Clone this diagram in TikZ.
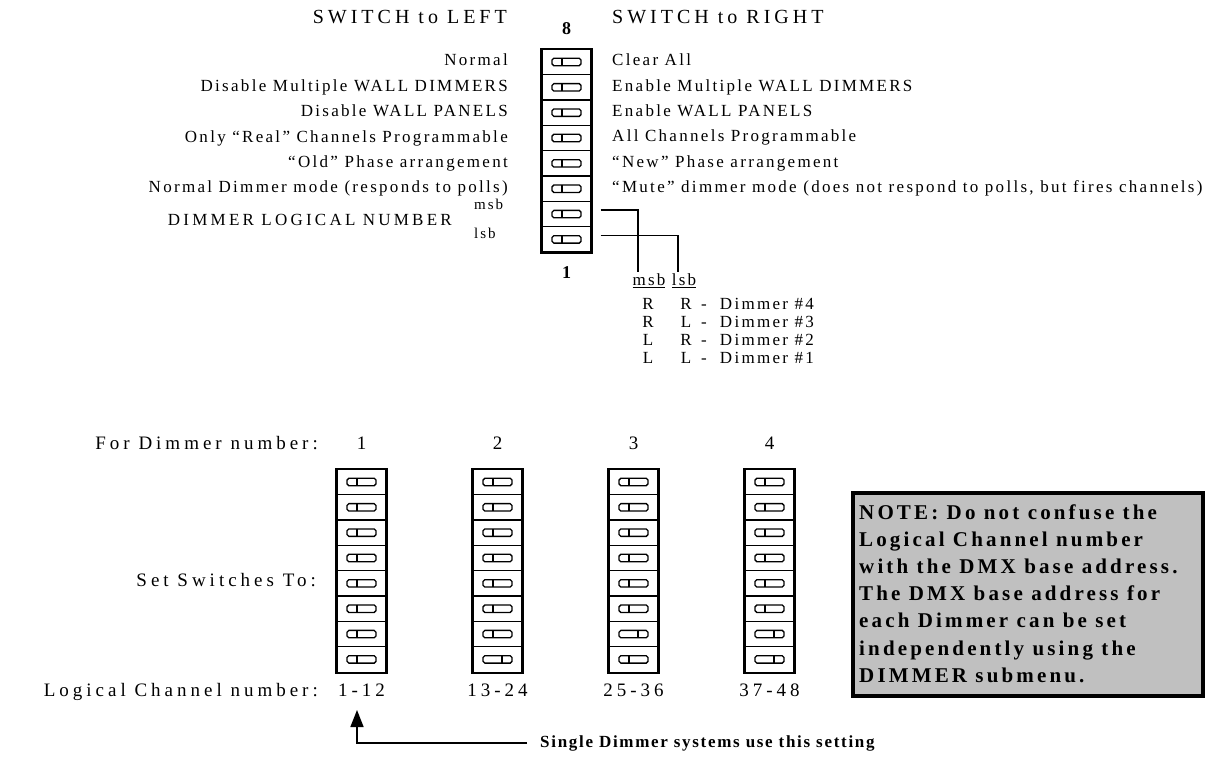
\documentclass[tikz,border=0pt]{standalone}
\usepackage{fontspec}
\setmainfont{Liberation Serif}[LetterSpace=13.5]
\usetikzlibrary{arrows.meta}
\definecolor{notegray}{HTML}{C0C0C0}
\tikzset{
  lbl/.style={inner sep=0pt, font=\fontsize{17}{20}\selectfont, text height=11pt, text depth=3pt},
  head/.style={lbl, font=\fontsize{20}{22}\selectfont\addfontfeature{LetterSpace=20}},
  wide/.style={lbl, font=\fontsize{19}{22}\selectfont\addfontfeature{LetterSpace=21}},
  blbl/.style={lbl, font=\fontsize{18}{20}\selectfont\bfseries},
  notetext/.style={inner sep=0pt, font=\fontsize{21}{27}\selectfont\bfseries\addfontfeature{LetterSpace=15}},
  swcell/.style={draw, line width=1.2pt, minimum width=49pt, minimum height=25.35pt, inner sep=0pt},
  swframe/.style={line width=2pt},
  tog/.style={line width=1.3pt},
  wire/.style={line width=1.5pt},
}
% one cell of a DIP switch: name, x, y, offset of the slider divider
\newcommand\dipcell[4]{%
  \node[swcell] (#1) at (#2,{#3}) {};
  \draw[tog, rounded corners=1.8pt] ([shift={(-14.5pt,-3.7pt)}]#1.center) rectangle ([shift={(14.5pt,3.7pt)}]#1.center);
  \draw[tog] ([shift={(#4pt,-3.7pt)}]#1.center) -- ([shift={(#4pt,3.7pt)}]#1.center);
}
\begin{document}
\begin{tikzpicture}[x=1pt,y=-1pt]
\useasboundingbox (0,0) rectangle (1212,759);

% ---- switch legend ----
\node[head, anchor=east] (hl) at (507,20) {SWITCH to LEFT};
\node[head, anchor=west] (hr) at (612,20) {SWITCH to RIGHT};
\node[blbl] (n8) at (566.5,31) {8};

\foreach \k in {1,...,8} {\dipcell{t\k}{566.5}{49.3+25.35*(\k-0.5)}{-4.5}}
\draw[swframe] (t1.north west) rectangle (t8.south east);
\node[blbl] (n1) at (566.5,275) {1};

\foreach \txt [count=\k] in {Normal, Disable Multiple WALL DIMMERS, Disable WALL PANELS,
  Only “Real” Channels Programmable, “Old” Phase arrangement,
  Normal Dimmer mode (responds to polls)}
  {\node[lbl, anchor=east] (ll\k) at (508,{49.3+25.35*(\k-0.5)}) {\txt};}

\node[lbl, anchor=west] (rl1) at (612,62.0) {Clear All};
\node[lbl, anchor=west] (rl2) at (612,87.3) {Enable Multiple WALL DIMMERS};
\node[lbl, anchor=west] (rl3) at (612,112.7) {Enable WALL PANELS};
\node[lbl, anchor=west] (rl4) at (612,138.0) {All Channels Programmable};
\node[lbl, anchor=west] (rl5) at (612,163.4) {“New” Phase arrangement};
\node[lbl, anchor=west] (rl6) at (612,188.7) {“Mute” dimmer mode (does not respond to polls, but fires channels)};

\node[lbl, anchor=east, font=\fontsize{17}{20}\selectfont\addfontfeature{LetterSpace=19}] (dln) at (452,222) {DIMMER LOGICAL NUMBER};
\node[lbl, anchor=west, font=\fontsize{15}{18}\selectfont] (lmsb) at (474,206) {msb};
\node[lbl, anchor=west, font=\fontsize{15}{18}\selectfont] (llsb) at (474,235) {lsb};

% ---- msb / lsb table ----
\node[lbl] (msb) at (649,282) {\underline{msb}};
\node[lbl] (lsb) at (684,282) {\underline{lsb}};
\draw[wire] ([shift={(9pt,4pt)}]t7.east) -| ([xshift=-11pt,yshift=3pt]msb.north);
\draw[wire] ([shift={(9pt,4pt)}]t8.east) -| ([xshift=-6pt,yshift=3pt]lsb.north);

\foreach \a/\b/\n [count=\k] in {R/R/4, R/L/3, L/R/2, L/L/1} {
  \node[lbl] (ta\k) at (648,{305+18*(\k-1)}) {\a};
  \node[lbl] (tb\k) at (686,{305+18*(\k-1)}) {\b};
  \node[lbl, anchor=west] (tc\k) at (701,{305+18*(\k-1)}) {- \ Dimmer \#\n};
}

% ---- settings for each dimmer ----
\node[wide, anchor=east] (fdn) at (318,445) {For Dimmer number:};
\node[wide, anchor=east] (ssw) at (316,582) {Set Switches To:};
\node[wide, anchor=east] (lcn) at (318,692) {Logical Channel number:};

\foreach \b/\cx/\m/\l/\rng in {1/361.5/-4.5/-4.5/1-12, 2/497.5/-4.5/4.5/13-24,
                               3/633.5/4.5/-4.5/25-36, 4/769.5/4.5/4.5/37-48} {
  \node[wide] (d\b) at (\cx,445) {\b};
  \foreach \k in {1,...,6} {\dipcell{b\b r\k}{\cx}{469.3+25.35*(\k-0.5)}{-4.5}}
  \dipcell{b\b r7}{\cx}{469.3+25.35*6.5}{\m}
  \dipcell{b\b r8}{\cx}{469.3+25.35*7.5}{\l}
  \draw[swframe] (b\b r1.north west) rectangle (b\b r8.south east);
  \node[wide] (rng\b) at (\cx,692) {\rng};
}

% ---- single dimmer pointer ----
\node[lbl, anchor=west, font=\fontsize{17}{20}\selectfont\bfseries\addfontfeature{LetterSpace=10}] (single) at (540,743) {Single Dimmer systems use this setting};
\coordinate (tip) at (357,710);
\draw[wire, -{Triangle[length=17pt,width=13pt]}] ([xshift=-13pt]single.west) -| (tip);

% ---- note box ----
\node[draw=black, line width=5pt, fill=white, minimum width=349pt, minimum height=202pt, inner sep=0pt] (note) at (1028,594.5) {};
\fill[notegray] ([shift={(4pt,-4pt)}]note.north west) rectangle ([shift={(-4pt,4pt)}]note.south east);
\foreach \t [count=\i] in {NOTE: Do not confuse the, Logical Channel number,
  with the DMX base address., The DMX base address for, each Dimmer can be set,
  independently using the, DIMMER submenu.}
  {\node[notetext, anchor=base west] (nl\i) at (859,{519+27.2*(\i-1)}) {\t};}
\end{tikzpicture}
\end{document}
